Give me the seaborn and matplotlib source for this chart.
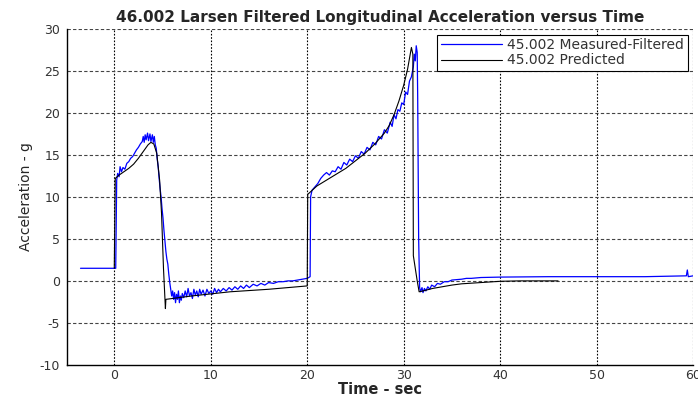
import matplotlib
matplotlib.use("Agg")
import matplotlib.pyplot as plt
import seaborn as sns
import pandas as pd

# Measured-filtered longitudinal acceleration (time in s, acceleration in g)
measured_t = [
    -3.5, 0.15, 0.25, 0.35, 0.5, 0.6, 0.75, 0.9, 1.1, 1.3, 1.5, 1.7, 1.9, 2.1, 2.3,
    2.5, 2.7, 2.9, 3.0, 3.1, 3.2, 3.3, 3.45, 3.55, 3.7, 3.8, 3.95, 4.05, 4.15, 4.25,
    4.35, 4.45, 4.55, 4.65, 4.75, 4.85, 4.95, 5.05, 5.15, 5.25, 5.35, 5.45, 5.55,
    5.65, 5.75, 5.85, 5.95, 6.05, 6.15, 6.25, 6.35, 6.45, 6.55, 6.65, 6.75, 6.85,
    6.95, 7.05, 7.2, 7.35, 7.5, 7.65, 7.8, 7.95, 8.1, 8.25, 8.4, 8.55, 8.7, 8.85,
    9.0, 9.2, 9.4, 9.6, 9.8, 10.0, 10.2, 10.4, 10.6, 10.8, 11.0, 11.3, 11.6, 11.9,
    12.2, 12.5, 12.8, 13.1, 13.4, 13.7, 14.0, 14.4, 14.8, 15.2, 15.6, 16.0, 16.5,
    17.0, 17.5, 18.0, 18.5, 19.0, 19.5, 20.0, 20.3, 20.35, 20.5, 20.8, 21.1, 21.4,
    21.7, 22.0, 22.3, 22.6, 22.9, 23.2, 23.5, 23.8, 24.1, 24.4, 24.7, 25.0, 25.3,
    25.6, 25.9, 26.2, 26.5, 26.8, 27.1, 27.4, 27.7, 28.0, 28.3, 28.6, 28.8, 29.0,
    29.2, 29.4, 29.6, 29.8, 30.0, 30.2, 30.4, 30.6, 30.8, 31.0, 31.1, 31.2, 31.3,
    31.4, 31.45, 31.55, 31.65, 31.75, 31.9, 32.0, 32.15, 32.3, 32.5, 32.7, 32.9,
    33.2, 33.5, 33.8, 34.2, 34.6, 35.0, 35.5, 36.0, 36.5, 37.0, 38.0, 40.0, 45.0,
    50.0, 55.0, 59.3, 59.4, 59.5, 60.0,
]
measured_g = [
    1.5, 1.5, 12.0, 12.8, 12.4, 13.6, 13.0, 13.5, 13.3, 14.0, 14.2, 14.6, 14.8, 15.2, 15.6,
    15.9, 16.3, 16.6, 17.2, 16.5, 17.4, 16.8, 17.6, 16.7, 17.5, 16.6, 17.4, 16.5, 17.2, 16.2,
    15.8, 14.5, 13.6, 12.2, 11.0, 10.0, 8.6, 7.5, 6.0, 4.8, 3.5, 2.6, 2.0,
    0.8, -0.2, -1.0, -1.8, -1.2, -2.2, -1.4, -2.6, -1.6, -2.2, -1.2, -2.6, -1.8,
    -2.3, -1.5, -2.0, -1.2, -1.9, -0.9, -1.8, -1.4, -2.1, -1.0, -1.7, -1.2, -1.9, -1.0,
    -1.6, -1.1, -1.8, -1.0, -1.5, -1.2, -1.6, -0.9, -1.4, -1.0, -1.3, -0.9, -1.2, -0.8,
    -1.1, -0.7, -1.0, -0.6, -0.9, -0.5, -0.8, -0.4, -0.6, -0.3, -0.5, -0.2, -0.3,
    -0.1, -0.1, 0.0, 0.0, 0.1, 0.2, 0.3, 0.5, 10.0, 10.8, 11.2, 11.6, 12.2,
    12.6, 12.9, 12.6, 13.1, 13.0, 13.6, 13.3, 14.1, 13.8, 14.5, 14.2, 14.9, 14.6,
    15.4, 15.1, 15.9, 15.6, 16.5, 16.2, 17.2, 16.9, 18.0, 17.6, 18.9, 18.4, 19.8,
    19.3, 20.4, 20.2, 21.2, 21.0, 22.5, 22.2, 23.8, 24.3, 25.5, 27.0, 26.2, 28.0,
    27.2, 22.0, 5.0, -0.8, -1.3, -0.8, -1.4, -0.9, -1.2, -0.7, -1.0, -0.5,
    -0.7, -0.3, -0.4, -0.1, -0.1, 0.1, 0.15, 0.2, 0.3, 0.3, 0.4, 0.45, 0.5,
    0.5, 0.5, 0.6, 1.3, 0.5, 0.6,
]

# Predicted longitudinal acceleration
predicted_t = [
    0.0, 0.1, 0.5, 1.0, 1.5, 2.0, 2.5, 3.0, 3.5, 3.8, 4.1, 4.4, 4.7, 4.9, 5.1, 5.3,
    5.35, 8.0, 12.0, 16.0, 20.0, 20.05, 21.0, 22.0, 23.0, 24.0, 25.0, 26.0, 27.0,
    28.0, 28.5, 29.0, 29.5, 30.0, 30.4, 30.8, 30.95, 31.0, 31.4, 31.6, 32.0, 33.0,
    34.0, 35.0, 36.0, 38.0, 40.0, 42.0, 46.0,
]
predicted_g = [
    1.5, 12.2, 12.6, 13.0, 13.4, 13.9, 14.6, 15.4, 16.2, 16.5, 16.3, 15.2, 12.0, 8.0, 1.5, -3.3,
    -2.2, -1.8, -1.3, -1.0, -0.6, 10.3, 11.3, 12.0, 12.7, 13.4, 14.3, 15.2, 16.3,
    17.6, 18.5, 19.8, 21.4, 23.3, 25.2, 27.8, 27.0, 3.0, 0.0, -1.3, -1.2, -0.9,
    -0.7, -0.5, -0.35, -0.2, -0.05, 0.0, 0.0,
]

x_ticks = [0, 10, 20, 30, 40, 50, 60]
y_ticks = [-10, -5, 0, 5, 10, 15, 20, 25, 30]

measured = pd.DataFrame({"t": measured_t, "g": measured_g})
predicted = pd.DataFrame({"t": predicted_t, "g": predicted_g})

sns.set_style("white")
plt.rcParams["font.family"] = ["DejaVu Sans"]
plt.rcParams["axes.unicode_minus"] = False

fig = plt.figure(figsize=(6.98, 3.97), dpi=100)
ax = fig.add_axes([0.096, 0.081, 0.897, 0.846])

sns.lineplot(data=measured, x="t", y="g", ax=ax, sort=False, estimator=None,
             color="#0000ff", linewidth=0.9, label="45.002 Measured-Filtered")
sns.lineplot(data=predicted, x="t", y="g", ax=ax, sort=False, estimator=None,
             color="#000000", linewidth=0.8, label="45.002 Predicted")

ax.set_xlim(-4.9, 60)
ax.set_ylim(-10, 30)
ax.set_xticks(x_ticks)
ax.set_yticks(y_ticks)
ax.tick_params(axis="both", labelsize=9, labelcolor="#333333", length=0)
ax.tick_params(axis="x", pad=3)
ax.tick_params(axis="y", pad=5)

# Dotted grid in the MATLAB manner
for xv in x_ticks:
    ax.axvline(xv, color="black", linewidth=0.8, linestyle=(0, (1.5, 1.5)), zorder=0)
for yv in y_ticks[1:]:
    ax.axhline(yv, color="#444444", linewidth=0.8, linestyle=(0, (3, 2)), zorder=0)

for side in ["top", "right"]:
    ax.spines[side].set_visible(False)
for side in ["left", "bottom"]:
    ax.spines[side].set_color("black")
    ax.spines[side].set_linewidth(1.0)

ax.set_title("46.002 Larsen Filtered Longitudinal Acceleration versus Time",
             fontsize=11, fontweight="bold", pad=5)
ax.set_xlabel("Time - sec", fontsize=10.5, fontweight="bold", labelpad=0)
ax.set_ylabel("Acceleration - g", fontsize=10, labelpad=5)

leg = ax.legend(loc="upper right", fontsize=10, frameon=True, fancybox=False,
                edgecolor="black", framealpha=1, borderaxespad=0.4,
                handlelength=4.4, borderpad=0.25, labelspacing=0.1,
                handletextpad=0.4)
leg.get_frame().set_linewidth(0.8)
for txt in leg.get_texts():
    txt.set_color("#333333")

fig.savefig("out.png", dpi=100)
